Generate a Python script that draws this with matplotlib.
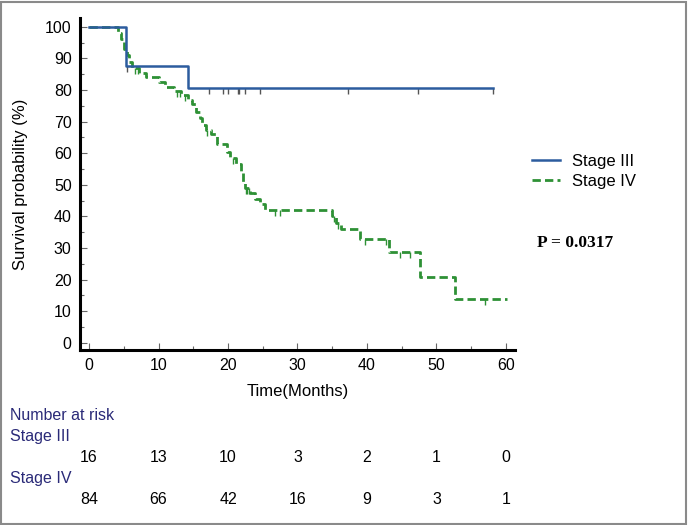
import numpy as np
import matplotlib
matplotlib.use("Agg")
import matplotlib.pyplot as plt
from matplotlib.patches import Rectangle

plt.rcParams['font.family'] = ['Liberation Sans', 'DejaVu Sans']

# Kaplan-Meier steps (time in months, survival in %)
stage3_times = [0, 5.3, 14.3]
stage3_surv = [100, 87.5, 80.8]
stage3_end = 58.1
stage3_censor = [5.4, 17.3, 19.3, 20.0, 21.4, 21.6, 22.4, 24.6, 37.2, 47.3, 58.1]

stage4_times = [0, 4.2, 4.6, 5.0, 5.4, 5.8, 6.2, 7.2, 8.2, 10.0, 11.0, 12.2, 13.2,
                14.2, 14.8, 15.4, 15.9, 16.3, 16.8, 17.6, 18.4, 19.8, 20.3, 21.2,
                21.8, 22.2, 22.5, 23.2, 23.9, 24.6, 25.3, 35.0, 35.6, 36.3, 39.0,
                43.2, 47.7, 52.7]
stage4_surv = [100, 98, 96, 93, 91, 89, 87, 85.5, 84.2, 82.5, 81, 79.8, 78.5,
               77, 75.5, 73, 71, 69, 67.5, 66, 63, 60.5, 58.5, 56.5,
               54, 51, 49, 47.5, 45.5, 44, 42, 40, 38, 36, 32.8,
               28.6, 20.8, 13.8]
stage4_end = 60.1
stage4_censor = [6.6, 7.0, 12.7, 13.1, 13.8, 17.0, 20.7, 22.6, 22.8, 23.0,
                 26.8, 27.5, 35.3, 35.8, 39.7, 42.8, 44.7, 46.2, 57.0]

risk_times = [0, 10, 20, 30, 40, 50, 60]
risk_stage3 = [16, 13, 10, 3, 2, 1, 0]
risk_stage4 = [84, 66, 42, 16, 9, 3, 1]

blue = '#2c5c9e'
green = '#2e9135'
navy = '#2a2a78'
fs = 11.5

fig = plt.figure(figsize=(6.88, 5.25), dpi=100)
ax = fig.add_axes([0.1163, 0.3333, 0.6322, 0.6324])


def step_value(times, surv, t):
    i = np.searchsorted(times, t, side='right') - 1
    return surv[i]


def draw_km(times, surv, end, censor, color, ls, lw, tick_color, label):
    x = list(times) + [end]
    y = list(surv) + [surv[-1]]
    ax.step(x, y, where='post', color=color, linestyle=ls, lw=lw, label=label,
            zorder=3)
    cy = [step_value(times, surv, t) for t in censor]
    ax.vlines(censor, [v - 1.9 for v in cy], cy, color=tick_color, lw=1.0,
              zorder=2)


draw_km(stage4_times, stage4_surv, stage4_end, stage4_censor, green,
        (0, (3.0, 1.5)), 2.0, green, 'Stage IV')
draw_km(stage3_times, stage3_surv, stage3_end, stage3_censor, blue,
        '-', 1.8, '#555555', 'Stage III')

ax.set_xlim(-1.3, 61.3)
ax.set_ylim(-2.3, 102.8)
ax.set_xticks(range(0, 61, 10))
ax.set_yticks(range(0, 101, 10))
ax.set_xticks(range(5, 60, 10), minor=True)
ax.set_yticks(range(5, 100, 10), minor=True)
ax.tick_params(which='both', direction='in', color='#666666', labelsize=fs,
               width=0.8)
ax.tick_params(which='major', length=5, pad=6)
ax.tick_params(which='minor', length=3)
for side in ['top', 'right']:
    ax.spines[side].set_visible(False)
for side in ['left', 'bottom']:
    ax.spines[side].set_linewidth(2.2)
    ax.spines[side].set_color('black')

ax.set_xlabel('Time(Months)', fontsize=12, labelpad=8)
ax.set_ylabel('Survival probability (%)', fontsize=12, labelpad=12)

handles, labels = ax.get_legend_handles_labels()
ax.legend(handles[::-1], labels[::-1], loc='upper left',
          bbox_to_anchor=(1.005, 0.635), frameon=False, fontsize=12,
          handlelength=1.7, handletextpad=0.7, labelspacing=0.3)

fig.text(537 / 688, 1 - 243 / 525, 'P = 0.0317', family='Liberation Serif',
         fontweight='bold', fontsize=12.5, va='center', ha='left')

# number at risk table
trans = matplotlib.transforms.blended_transform_factory(ax.transData,
                                                        fig.transFigure)
fig.text(10 / 688, 1 - 415 / 525, 'Number at risk', color=navy, fontsize=fs,
         va='center')
fig.text(10 / 688, 1 - 437 / 525, 'Stage III', color=navy, fontsize=fs,
         va='center')
fig.text(10 / 688, 1 - 479 / 525, 'Stage IV', color=navy, fontsize=fs,
         va='center')
for t, n in zip(risk_times, risk_stage3):
    fig.text(t, 1 - 458 / 525, str(n), transform=trans, ha='center',
             va='center', fontsize=fs)
for t, n in zip(risk_times, risk_stage4):
    fig.text(t, 1 - 500 / 525, str(n), transform=trans, ha='center',
             va='center', fontsize=fs)

fig.patches.append(Rectangle((0.001, 0.002), 0.996, 0.995,
                             transform=fig.transFigure, fill=False,
                             edgecolor='#8a8a8a', lw=1.5))

fig.savefig('out.png', dpi=100)
